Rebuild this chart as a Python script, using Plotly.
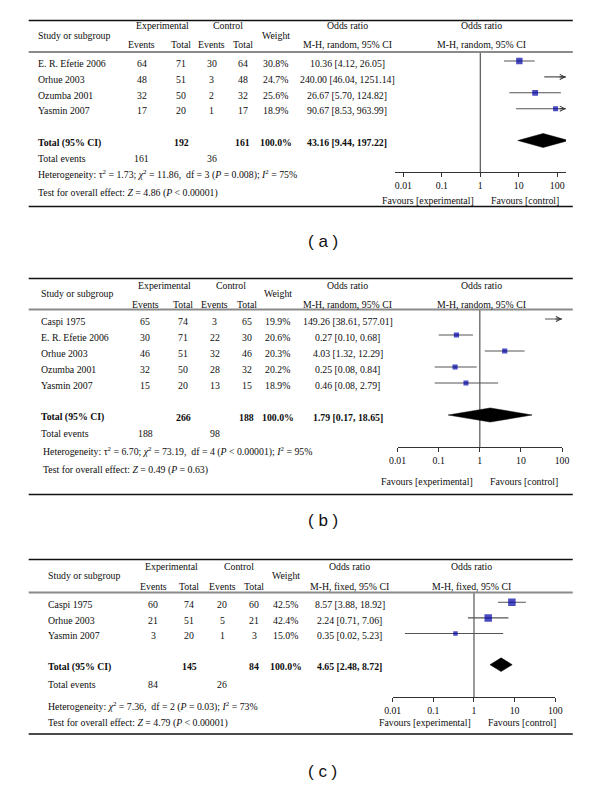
import numpy as np
import plotly.graph_objects as go

W, H = 600, 785
OFF = 8  # page body margin compensation
SERIF = "Liberation Serif"
SANS = "Liberation Sans"
FS = 9.8
TXT = "#0d0d0d"

# ---------------- data ----------------
# Panel (a)
studies_a = ["E. R. Efetie 2006", "Orhue 2003", "Ozumba 2001", "Yasmin 2007"]
exp_events_a = [64, 48, 32, 17]
exp_total_a = [71, 51, 50, 20]
ctl_events_a = [30, 3, 2, 1]
ctl_total_a = [64, 48, 32, 17]
weight_a = [30.8, 24.7, 25.6, 18.9]
or_a = [10.36, 240.00, 26.67, 90.67]
lo_a = [4.12, 46.04, 5.70, 8.53]
hi_a = [26.05, 1251.14, 124.82, 963.99]
total_a = {"exp_total": 192, "ctl_total": 161, "weight": 100.0,
           "or": 43.16, "lo": 9.44, "hi": 197.22,
           "exp_events": 161, "ctl_events": 36}
het_a = "Heterogeneity: τ<sup>2</sup> = 1.73; <i>χ</i><sup>2</sup> = 11.86,  df = 3 (<i>P</i> = 0.008); <i>I</i><sup>2</sup> = 75%"
test_a = "Test for overall effect: <i>Z</i> = 4.86 (<i>P</i> &lt; 0.00001)"
method_a = "M-H, random, 95% CI"

# Panel (b)
studies_b = ["Caspi 1975", "E. R. Efetie 2006", "Orhue 2003", "Ozumba 2001", "Yasmin 2007"]
exp_events_b = [65, 30, 46, 32, 15]
exp_total_b = [74, 71, 51, 50, 20]
ctl_events_b = [3, 22, 32, 28, 13]
ctl_total_b = [65, 30, 46, 32, 15]
weight_b = [19.9, 20.6, 20.3, 20.2, 18.9]
or_b = [149.26, 0.27, 4.03, 0.25, 0.46]
lo_b = [38.61, 0.10, 1.32, 0.08, 0.08]
hi_b = [577.01, 0.68, 12.29, 0.84, 2.79]
total_b = {"exp_total": 266, "ctl_total": 188, "weight": 100.0,
           "or": 1.79, "lo": 0.17, "hi": 18.65,
           "exp_events": 188, "ctl_events": 98}
het_b = "Heterogeneity: τ<sup>2</sup> = 6.70; <i>χ</i><sup>2</sup> = 73.19,  df = 4 (<i>P</i> &lt; 0.00001); <i>I</i><sup>2</sup> = 95%"
test_b = "Test for overall effect: <i>Z</i> = 0.49 (<i>P</i> = 0.63)"
method_b = "M-H, random, 95% CI"

# Panel (c)
studies_c = ["Caspi 1975", "Orhue 2003", "Yasmin 2007"]
exp_events_c = [60, 21, 3]
exp_total_c = [74, 51, 20]
ctl_events_c = [20, 5, 1]
ctl_total_c = [60, 21, 3]
weight_c = [42.5, 42.4, 15.0]
or_c = [8.57, 2.24, 0.35]
lo_c = [3.88, 0.71, 0.02]
hi_c = [18.92, 7.06, 5.23]
total_c = {"exp_total": 145, "ctl_total": 84, "weight": 100.0,
           "or": 4.65, "lo": 2.48, "hi": 8.72,
           "exp_events": 84, "ctl_events": 26}
het_c = "Heterogeneity: <i>χ</i><sup>2</sup> = 7.36,  df = 2 (<i>P</i> = 0.03); <i>I</i><sup>2</sup> = 73%"
test_c = "Test for overall effect: <i>Z</i> = 4.79 (<i>P</i> &lt; 0.00001)"
method_c = "M-H, fixed, 95% CI"

tick_vals = [0.01, 0.1, 1, 10, 100]
tick_text = ["0.01", "0.1", "1", "10", "100"]
panel_labels = ["( a )", "( b )", "( c )"]

# ---------------- layout (pixel geometry, window coordinates) ----------------
panels = [
    dict(studies=studies_a, ee=exp_events_a, et=exp_total_a, ce=ctl_events_a, ct=ctl_total_a,
         w=weight_a, orr=or_a, lo=lo_a, hi=hi_a, tot=total_a, het=het_a, test=test_a, method=method_a,
         label=panel_labels[0],
         xs=dict(study=28, ee=136, et=177, ce=208, ct=240, wt=274, ortxt=347.5,
                 exph=157, ctlh=225, ploth=485, het=28, fav_exp=480, fav_ctl=493),
         ys=dict(top=20.5, h1=26, h2=44.3, hmid=35.5, hline=52, row0=61, sp=15.9, axis=172,
                 totev=159, het=175, test=192.5, fav=201, bottom=206.5, label=241.5),
         xpx=(396, 572), xr=(-2.228, 2.228)),
    dict(studies=studies_b, ee=exp_events_b, et=exp_total_b, ce=ctl_events_b, ct=ctl_total_b,
         w=weight_b, orr=or_b, lo=lo_b, hi=hi_b, tot=total_b, het=het_b, test=test_b, method=method_b,
         label=panel_labels[1],
         xs=dict(study=31, ee=140, et=179, ce=211, ct=244, wt=276, ortxt=348,
                 exph=160, ctlh=228, ploth=485, het=33, fav_exp=479, fav_ctl=492),
         ys=dict(top=278.5, h1=286, h2=304.3, hmid=293.5, hline=309.5, row0=319, sp=16, axis=447,
                 totev=433, het=451.5, test=470, fav=481, bottom=494.5, label=520),
         xpx=(399, 568), xr=(-2, 2)),
    dict(studies=studies_c, ee=exp_events_c, et=exp_total_c, ce=ctl_events_c, ct=ctl_total_c,
         w=weight_c, orr=or_c, lo=lo_c, hi=hi_c, tot=total_c, het=het_c, test=test_c, method=method_c,
         label=panel_labels[2],
         xs=dict(study=38, ee=148, et=185, ce=219, ct=252, wt=284, ortxt=350,
                 exph=167, ctlh=236, ploth=475, het=38, fav_exp=477, fav_ctl=490),
         ys=dict(top=559.5, h1=566.7, h2=586.7, hmid=575.7, hline=592.5, row0=602.3, sp=15.6, axis=697,
                 totev=684, het=706, test=723, fav=722, bottom=734, label=771.5),
         xpx=(394, 561), xr=(-2, 2)),
]

LINE_L, LINE_R = 20, 579

def px(x):
    return (x - OFF) / W

def py(y):
    return 1 - (y - OFF) / H

fig = go.Figure()
annotations = []
shapes = []

def ann(x, y, text, anchor="center", size=FS, font=SERIF, color=TXT):
    annotations.append(dict(x=px(x), y=py(y), xref="paper", yref="paper", text=text,
                            showarrow=False, xanchor=anchor, yanchor="middle",
                            font=dict(family=font, size=size, color=color)))

def hline(y, color, width):
    shapes.append(dict(type="line", xref="paper", yref="paper", x0=px(LINE_L), x1=px(LINE_R),
                       y0=py(y), y1=py(y), line=dict(color=color, width=width)))

layout_axes = {}
for k, p in enumerate(panels):
    n = k + 1
    xa = "xaxis" if n == 1 else f"xaxis{n}"
    ya = "yaxis" if n == 1 else f"yaxis{n}"
    xr_ = "x" if n == 1 else f"x{n}"
    yr_ = "y" if n == 1 else f"y{n}"
    xs, ys = p["xs"], p["ys"]
    row0, sp = ys["row0"], ys["sp"]
    nst = len(p["studies"])
    total_row = nst + 1

    # axes
    layout_axes[xa] = dict(type="log", range=list(p["xr"]),
                           domain=[px(p["xpx"][0]), px(p["xpx"][1])],
                           anchor=yr_, showline=True, linecolor="#333", linewidth=1,
                           ticks="outside", ticklen=4, tickcolor="#333", tickwidth=1,
                           tickvals=tick_vals, ticktext=tick_text, showgrid=False,
                           zeroline=False, fixedrange=True,
                           tickfont=dict(family=SERIF, size=FS, color=TXT))
    layout_axes[ya] = dict(domain=[py(ys["axis"]), py(ys["hline"])],
                           range=[(ys["axis"] - row0) / sp, (ys["hline"] - row0) / sp],
                           anchor=xr_, visible=False, fixedrange=True)

    rows = list(range(nst))
    # CI lines
    cx, cy = [], []
    for i in rows:
        cx += [p["lo"][i], p["hi"][i], None]
        cy += [i, i, None]
    fig.add_trace(go.Scatter(x=cx, y=cy, mode="lines", xaxis=xr_, yaxis=yr_,
                             line=dict(color="#555", width=1.1), hoverinfo="skip", showlegend=False))
    # squares
    fig.add_trace(go.Scatter(x=p["orr"], y=rows, mode="markers", xaxis=xr_, yaxis=yr_,
                             marker=dict(symbol="square", color="#0000a8",
                                         size=[1.15 * np.sqrt(w) for w in p["w"]],
                                         line=dict(width=0)),
                             showlegend=False))
    # diamond
    t = p["tot"]
    hh = 0.44
    fig.add_trace(go.Scatter(x=[t["lo"], t["or"], t["hi"], t["or"], t["lo"]],
                             y=[total_row, total_row - hh, total_row, total_row + hh, total_row],
                             mode="lines", fill="toself", fillcolor="black",
                             line=dict(color="black", width=0.5), xaxis=xr_, yaxis=yr_,
                             hoverinfo="skip", showlegend=False))
    # arrows for CIs beyond the axis
    xmax = p["xr"][1]
    for i in rows:
        if np.log10(p["hi"][i]) > xmax:
            annotations.append(dict(x=xmax, y=i, xref=xr_, yref=yr_, text="", showarrow=True,
                                    ax=-8, ay=0, arrowhead=5, arrowsize=1, arrowwidth=1,
                                    arrowcolor="#333"))
    # vertical line at OR = 1
    shapes.append(dict(type="line", xref=xr_, yref=f"{yr_} domain", x0=1, x1=1, y0=0, y1=1,
                       line=dict(color="#555", width=1.2), layer="below"))

    # horizontal rules
    hline(ys["top"], "#111", 1.3)
    hline(ys["hline"], "#8a8a8a", 2)
    hline(ys["bottom"], "#111", 1.3)

    # header text
    ann(xs["study"], ys["hmid"], "Study or subgroup", "left")
    ann(xs["exph"], ys["h1"], "Experimental")
    ann(xs["ctlh"], ys["h1"], "Control")
    ann(xs["ee"], ys["h2"], "Events")
    ann(xs["et"], ys["h2"], "Total")
    ann(xs["ce"], ys["h2"], "Events")
    ann(xs["ct"], ys["h2"], "Total")
    ann(xs["wt"], ys["hmid"], "Weight")
    ann(xs["ortxt"], ys["h1"], "Odds ratio")
    ann(xs["ortxt"], ys["h2"], p["method"])
    ann(xs["ploth"], ys["h1"], "Odds ratio")
    ann(xs["ploth"], ys["h2"], p["method"])

    # study rows
    for i in rows:
        yy = row0 + i * sp + 2.3
        ann(xs["study"], yy, p["studies"][i], "left")
        ann(xs["ee"], yy, str(p["ee"][i]))
        ann(xs["et"], yy, str(p["et"][i]))
        ann(xs["ce"], yy, str(p["ce"][i]))
        ann(xs["ct"], yy, str(p["ct"][i]))
        ann(xs["wt"], yy, f"{p['w'][i]:.1f}%")
        ann(xs["ortxt"], yy, f"{p['orr'][i]:.2f} [{p['lo'][i]:.2f}, {p['hi'][i]:.2f}]")

    # total row
    yy = row0 + total_row * sp + 2.3
    ann(xs["study"], yy, "<b>Total (95% CI)</b>", "left")
    ann(xs["et"], yy, f"<b>{t['exp_total']}</b>")
    ann(xs["ct"], yy, f"<b>{t['ctl_total']}</b>")
    ann(xs["wt"], yy, f"<b>{t['weight']:.1f}%</b>")
    ann(xs["ortxt"], yy, f"<b>{t['or']:.2f} [{t['lo']:.2f}, {t['hi']:.2f}]</b>")

    ann(xs["study"], ys["totev"], "Total events", "left")
    ann(xs["ee"], ys["totev"], str(t["exp_events"]))
    ann(xs["ce"], ys["totev"], str(t["ctl_events"]))
    ann(xs["het"], ys["het"], p["het"], "left")
    ann(xs["het"], ys["test"], p["test"], "left")

    ann(xs["fav_exp"], ys["fav"], "Favours [experimental]", "right")
    ann(xs["fav_ctl"], ys["fav"], "Favours [control]", "left")

    ann(322, ys["label"], p["label"], size=17, font=SANS, color="#111")

fig.update_layout(width=W, height=H, margin=dict(l=0, r=0, t=0, b=0),
                  paper_bgcolor="white", plot_bgcolor="white",
                  annotations=annotations, shapes=shapes, showlegend=False,
                  **layout_axes)

fig.write_html("out.html")
